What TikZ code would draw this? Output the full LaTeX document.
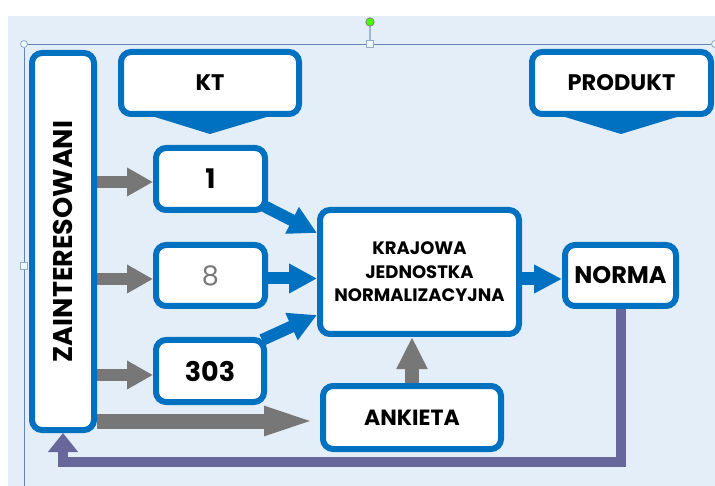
\documentclass[tikz,border=0pt]{standalone}
\usepackage{fontspec}
\setmainfont{Poppins}
\usetikzlibrary{arrows.meta,calc}
\definecolor{kblue}{HTML}{0070C0}
\definecolor{bgc}{HTML}{E4EEF8}
\definecolor{agray}{HTML}{777777}
\definecolor{purp}{HTML}{67679B}
\definecolor{selc}{HTML}{6585B2}
\pgfdeclarelayer{bottom}
\pgfdeclarelayer{arrowlayer}
\pgfsetlayers{bottom,arrowlayer,main}
\begin{document}
\begin{tikzpicture}[x=1pt,y=-1pt,
  box/.style={draw=kblue, line width=6pt, fill=white, rounded corners=10pt, inner sep=0pt, align=center, font=\bfseries},
  garrow/.style={draw=agray, line width=12pt, -{Triangle[length=26pt,width=27pt]}},
  barrow/.style={draw=kblue, line width=12pt, -{Triangle[length=28pt,width=28pt]}},
  pointer/.style={fill=kblue, draw=none},
  handle/.style={draw=selc!70, fill=cyan!8, line width=0.8pt}
]
\useasboundingbox (0,0) rectangle (715,486);
\begin{pgfonlayer}{bottom}
\fill[white] (0,0) rectangle (715,486);
\fill[bgc] (8,16) rectangle (715,486);
% selection frame
\draw[selc, line width=0.9pt] (24,486) -- (24,44) -- (715,44);
\draw[selc!60, line width=1.5pt] (370,44) -- (370,22);
\end{pgfonlayer}
\draw[handle] (24,44) circle (3.5);
\draw[handle] (715,44) circle (3.5);
\draw[handle] (366.5,40.5) rectangle (373.5,47.5);
\draw[handle] (20.5,262.5) rectangle (27.5,269.5);
\draw[draw=gray, fill=green!65!lime, line width=0.8pt] (370,22) circle (4.2);

% callouts
\fill[pointer] (142,113) -- (210,134) -- (280,113) -- cycle;
\node[box, minimum width=178, minimum height=62, font=\bfseries\fontsize{22.5}{26}\selectfont] (kt) at (210,83) {KT};
\fill[pointer] (552,113) -- (621,134) -- (690,113) -- cycle;
\node[box, minimum width=179, minimum height=62, font=\bfseries\fontsize{22.5}{26}\selectfont] (produkt) at (621.5,83) {PRODUKT};

% main boxes
\node[box, minimum width=62, minimum height=377] (zai) at (63,241.5) {};
\node[rotate=90, font=\bfseries\fontsize{27}{30}\selectfont] (zait) at (zai.center) {ZAINTERESOWANI};
\node[box, minimum width=109, minimum height=62, font=\bfseries\fontsize{27}{30}\selectfont] (b1) at (210.5,179) {1};
\node[box, minimum width=109, minimum height=61, font=\fontsize{27}{30}\selectfont, text=agray] (b8) at (210.5,275.5) {8};
\node[box, minimum width=108, minimum height=62, font=\bfseries\fontsize{27}{30}\selectfont] (b303) at (210,371) {303};
\node[box, minimum width=199, minimum height=124, font=\bfseries\fontsize{18}{23.5}\selectfont] (kjn) at (419.5,272) {KRAJOWA\\JEDNOSTKA\\NORMALIZACYJNA};
\node[box, minimum width=111, minimum height=61, font=\bfseries\fontsize{24}{26}\selectfont] (norma) at (620.5,275.5) {NORMA};
\node[box, minimum width=178, minimum height=63, font=\bfseries\fontsize{22}{26}\selectfont] (ankieta) at (412,417.5) {ANKIETA};

% connectors
\begin{pgfonlayer}{arrowlayer}
\draw[garrow] ($(zai.east|-b1.west)+(0,3)$) -- ($(b1.west)+(0,3)$);
\draw[garrow] ($(zai.east|-b8.west)+(0,3.5)$) -- ($(b8.west)+(0,3.5)$);
\draw[garrow] ($(zai.east|-b303.west)+(0,4)$) -- ($(b303.west)+(0,4)$);
\draw[draw=agray, line width=15pt, -{Triangle[length=56pt,width=25pt]}] ($(zai.east|-ankieta.west)+(0,3.5)$) -- ($(ankieta.west)+(0,3.5)$);
\draw[draw=agray, line width=14pt, -{Triangle[length=32pt,width=29pt]}] (ankieta.north) -- (ankieta.north|-kjn.south);
\draw[barrow] ($(b1.south east)+(-6,-8)$) -- ($(kjn.north west)+(0,26)$);
\draw[barrow] ($(b8.east)+(0,3)$) -- ($(kjn.west|-b8.east)+(0,3)$);
\draw[barrow] ($(b303.north east)+(-5,3)$) -- ($(kjn.south west)+(0,-22)$);
\draw[draw=kblue, line width=13pt, -{Triangle[length=28pt,width=27pt]}] ($(kjn.east|-norma.west)+(0,3.5)$) -- ($(norma.west)+(0,3.5)$);
\draw[draw=purp, line width=10pt, line join=miter, -{Triangle[length=19pt,width=29pt]}] (norma.south) |- ($(zai.south)+(0,29)$) -- (zai.south);
\end{pgfonlayer}
\end{tikzpicture}
\end{document}
